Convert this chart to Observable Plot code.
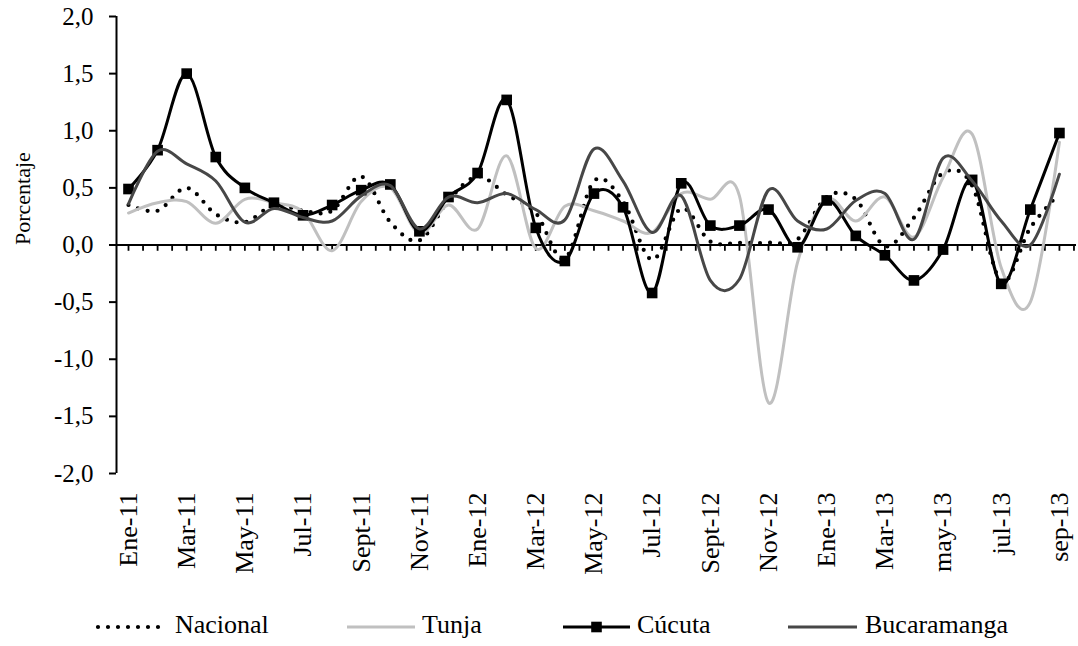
<!DOCTYPE html>
<html>
<head>
<meta charset="utf-8">
<script src="https://cdn.jsdelivr.net/npm/d3@7"></script>
<script src="https://cdn.jsdelivr.net/npm/@observablehq/plot@0.6"></script>
<style>
  body { margin: 0; background: #fff; font-family: 'Liberation Serif', 'Times New Roman', serif; }
  #chart { width: 1078px; }
  #chart svg text { font-family: 'Liberation Serif', 'Times New Roman', serif; }
  #legend { position: relative; width: 1078px; height: 46px; font-family: 'Liberation Serif', 'Times New Roman', serif; font-size: 26px; }
  #legend svg { position: absolute; top: 0; }
  #legend span { position: absolute; top: 10px; white-space: nowrap; color: #000; }
</style>
</head>
<body>
<div id="chart"></div>
<div id="legend"></div>
<script>
// Month index 0 = Ene-11 ... 32 = sep-13
const xTickLabels = ["Ene-11","Mar-11","May-11","Jul-11","Sept-11","Nov-11","Ene-12","Mar-12","May-12","Jul-12","Sept-12","Nov-12","Ene-13","Mar-13","may-13","jul-13","sep-13"];
const yTicks = [-2, -1.5, -1, -0.5, 0, 0.5, 1, 1.5, 2];
const seriesNames = ["Nacional", "Tunja", "Cúcuta", "Bucaramanga"];

const nacional = [0.35, 0.30, 0.50, 0.27, 0.20, 0.35, 0.30, 0.30, 0.60, 0.20, 0.04, 0.39, 0.60, 0.44, 0.28, -0.12, 0.56, 0.38, -0.13, 0.32, 0.03, 0.02, 0.02, 0.05, 0.42, 0.40, -0.01, 0.24, 0.63, 0.52, -0.32, 0.15, 0.45];
const tunja = [0.28, 0.37, 0.38, 0.19, 0.40, 0.37, 0.29, -0.05, 0.38, 0.50, 0.10, 0.35, 0.14, 0.78, -0.03, 0.34, 0.30, 0.21, 0.11, 0.45, 0.40, 0.43, -1.38, -0.15, 0.40, 0.21, 0.42, 0.07, 0.59, 0.97, -0.20, -0.50, 0.90];
const cucuta = [0.49, 0.83, 1.50, 0.77, 0.50, 0.37, 0.26, 0.35, 0.48, 0.53, 0.12, 0.42, 0.63, 1.27, 0.15, -0.14, 0.45, 0.33, -0.42, 0.54, 0.17, 0.17, 0.31, -0.02, 0.39, 0.08, -0.09, -0.31, -0.04, 0.57, -0.34, 0.31, 0.98];
const bucaramanga = [0.36, 0.82, 0.71, 0.56, 0.20, 0.32, 0.24, 0.21, 0.43, 0.52, 0.14, 0.42, 0.37, 0.45, 0.31, 0.22, 0.84, 0.56, 0.11, 0.43, -0.31, -0.30, 0.48, 0.21, 0.14, 0.39, 0.45, 0.05, 0.76, 0.56, 0.21, 0.00, 0.62];

const toRows = arr => arr.map((v, i) => ({i, v}));
const dNac = toRows(nacional), dTun = toRows(tunja), dCuc = toRows(cucuta), dBuc = toRows(bucaramanga);

const styles = {
  "Nacional": {stroke: "#000", strokeWidth: 4.2, strokeDasharray: "0 10", strokeLinecap: "round"},
  "Tunja": {stroke: "#c0c0c0", strokeWidth: 3},
  "Cúcuta": {stroke: "#000", strokeWidth: 3},
  "Bucaramanga": {stroke: "#474747", strokeWidth: 3}
};

const fmt = d => d.toFixed(1).replace(".", ",");
const xTicks = d3.range(0, 33, 2);
const minorTicks = d3.range(0, 33, 0.5);
const xMin = -0.4125;

const plot = Plot.plot({
  width: 1078,
  height: 600,
  marginLeft: 116,
  marginRight: 2,
  marginTop: 16,
  marginBottom: 127,
  style: {fontFamily: "'Liberation Serif', 'Times New Roman', serif", background: "#fff", color: "#000"},
  x: {domain: [xMin, 32.587]},
  y: {domain: [-2, 2]},
  marks: [
    // y axis
    Plot.axisY({ticks: yTicks, tickFormat: fmt, tickSize: 7, tickPadding: 16, fontSize: 25, stroke: "#000", strokeWidth: 2, label: null}),
    Plot.ruleX([xMin], {stroke: "#000", strokeWidth: 2}),
    Plot.text(["Porcentaje"], {frameAnchor: "left", dx: -94, rotate: -90, fontSize: 22, fill: "#000"}),
    // x axis labels at bottom
    Plot.axisX({ticks: xTicks, tickFormat: i => xTickLabels[i / 2], tickSize: 0, tickPadding: 19, tickRotate: -90, fontSize: 26, label: null, anchor: "bottom"}),
    // zero line with tick marks
    Plot.ruleY([0], {x1: xMin, x2: 32.587, stroke: "#000", strokeWidth: 2}),
    Plot.ruleX(minorTicks, {x: d => d, y1: 0, y2: -0.055, stroke: "#000", strokeWidth: 1.8}),
    // series
    Plot.line(dNac, {x: "i", y: "v", curve: "cardinal", ...styles["Nacional"]}),
    Plot.line(dTun, {x: "i", y: "v", curve: "cardinal", ...styles["Tunja"]}),
    Plot.line(dCuc, {x: "i", y: "v", curve: "cardinal", ...styles["Cúcuta"]}),
    Plot.dot(dCuc, {x: "i", y: "v", symbol: "square", r: 6, fill: "#000", stroke: "none"}),
    Plot.line(dBuc, {x: "i", y: "v", curve: "cardinal", ...styles["Bucaramanga"]})
  ]
});
document.getElementById("chart").appendChild(plot);

// Legend (below the SVG)
const legend = document.getElementById("legend");
const legendPos = [
  {name: "Nacional", x1: 98, x2: 162, tx: 175},
  {name: "Tunja", x1: 347, x2: 415, tx: 422},
  {name: "Cúcuta", x1: 563, x2: 630, tx: 637, marker: true},
  {name: "Bucaramanga", x1: 788, x2: 857, tx: 865}
];
legendPos.forEach(p => {
  const s = styles[p.name];
  const svgNS = "http://www.w3.org/2000/svg";
  const svg = document.createElementNS(svgNS, "svg");
  svg.setAttribute("width", p.x2 - p.x1 + 8);
  svg.setAttribute("height", 46);
  svg.style.left = (p.x1 - 4) + "px";
  const line = document.createElementNS(svgNS, "line");
  line.setAttribute("x1", 4); line.setAttribute("x2", p.x2 - p.x1 + 4);
  line.setAttribute("y1", 27); line.setAttribute("y2", 27);
  line.setAttribute("stroke", s.stroke);
  line.setAttribute("stroke-width", s.strokeWidth);
  if (s.strokeDasharray) line.setAttribute("stroke-dasharray", s.strokeDasharray);
  if (s.strokeLinecap) line.setAttribute("stroke-linecap", s.strokeLinecap);
  svg.appendChild(line);
  if (p.marker) {
    const r = document.createElementNS(svgNS, "rect");
    const cx = (p.x2 - p.x1) / 2 + 4;
    r.setAttribute("x", cx - 5.3); r.setAttribute("y", 27 - 5.3);
    r.setAttribute("width", 10.6); r.setAttribute("height", 10.6);
    r.setAttribute("fill", "#000");
    svg.appendChild(r);
  }
  legend.appendChild(svg);
  const span = document.createElement("span");
  span.textContent = p.name;
  span.style.left = p.tx + "px";
  legend.appendChild(span);
});
</script>
</body>
</html>
